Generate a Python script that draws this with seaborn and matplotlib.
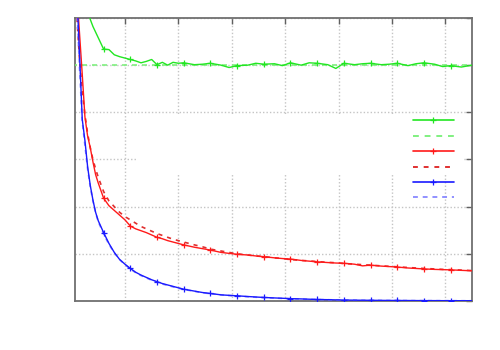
import numpy as np
import pandas as pd
import seaborn as sns
import matplotlib.pyplot as plt
from matplotlib.lines import Line2D
from matplotlib.patches import Rectangle

# shared sample positions
x = [0.10, 0.15, 0.20, 0.25, 0.30, 0.35, 0.40, 0.45, 0.50, 0.60,
     0.70, 0.80, 0.90, 1.00, 1.10, 1.20, 1.30, 1.40, 1.50, 1.60,
     1.70, 1.80, 1.90, 2.00, 2.10, 2.30, 2.45, 2.60, 2.80, 2.95,
     3.10, 3.30, 3.45, 3.60, 3.80, 3.95, 4.10, 4.30, 4.45, 4.60,
     4.80, 4.95, 5.10, 5.30, 5.45, 5.60, 5.80, 5.95, 6.10, 6.30,
     6.45, 6.60, 6.80, 6.95, 7.10, 7.30, 7.50]

green = [7.5, 7.2, 6.9, 6.6, 6.25, 5.97, 5.82, 5.70, 5.58, 5.34,
         5.33, 5.22, 5.18, 5.15, 5.12, 5.09, 5.05, 5.08, 5.12, 5.01,
         5.06, 5.00, 5.06, 5.04, 5.05, 5.01, 5.02, 5.04, 5.00, 4.95,
         4.99, 5.00, 5.04, 5.02, 5.03, 4.99, 5.05, 5.00, 5.05, 5.04,
         5.01, 4.93, 5.04, 5.01, 5.03, 5.04, 5.01, 5.02, 5.04, 4.99,
         5.03, 5.05, 5.02, 4.97, 4.99, 4.96, 5.00]
green_ref_x = [0.0, 7.5]
green_ref = [5.0, 5.0]

red = [6.5, 5.65, 4.8, 3.9, 3.5, 3.25, 2.95, 2.68, 2.50, 2.18,
       2.02, 1.92, 1.82, 1.72, 1.59, 1.53, 1.49, 1.45, 1.40, 1.35,
       1.32, 1.28, 1.25, 1.22, 1.19, 1.14, 1.11, 1.08, 1.03, 1.01,
       0.99, 0.975, 0.955, 0.94, 0.915, 0.90, 0.89, 0.86, 0.845, 0.83,
       0.815, 0.805, 0.80, 0.78, 0.745, 0.76, 0.74, 0.73, 0.72, 0.70,
       0.69, 0.68, 0.67, 0.665, 0.66, 0.65, 0.64]
red_ref = [6.0, 5.1, 4.45, 3.95, 3.55, 3.25, 3.0, 2.8, 2.62, 2.32,
           2.12, 2.0, 1.88, 1.79, 1.72, 1.65, 1.58, 1.53, 1.48, 1.43,
           1.39, 1.35, 1.31, 1.28, 1.25, 1.19, 1.15, 1.10, 1.06, 1.03,
           1.00, 0.975, 0.955, 0.94, 0.915, 0.90, 0.88, 0.86, 0.85, 0.835,
           0.82, 0.81, 0.795, 0.78, 0.77, 0.76, 0.745, 0.735, 0.725, 0.71,
           0.70, 0.69, 0.68, 0.67, 0.665, 0.655, 0.645]

blue = [6.5, 5.2, 3.85, 3.4, 2.85, 2.45, 2.14, 1.88, 1.70, 1.45,
        1.22, 1.03, 0.88, 0.78, 0.69, 0.61, 0.55, 0.50, 0.45, 0.41,
        0.37, 0.34, 0.31, 0.28, 0.25, 0.21, 0.18, 0.16, 0.13, 0.12,
        0.11, 0.095, 0.085, 0.075, 0.065, 0.058, 0.05, 0.044, 0.038, 0.032,
        0.028, 0.024, 0.02, 0.018, 0.016, 0.015, 0.013, 0.012, 0.011, 0.010,
        0.009, 0.008, 0.008, 0.007, 0.007, 0.006, 0.006]
blue_ref = [6.2, 4.9, 3.8, 3.3, 2.8, 2.42, 2.12, 1.87, 1.68, 1.42,
            1.20, 1.02, 0.88, 0.77, 0.68, 0.60, 0.54, 0.49, 0.44, 0.40,
            0.36, 0.33, 0.30, 0.27, 0.245, 0.205, 0.175, 0.155, 0.13, 0.115,
            0.105, 0.09, 0.08, 0.072, 0.062, 0.055, 0.048, 0.042, 0.036, 0.031,
            0.027, 0.023, 0.02, 0.017, 0.015, 0.014, 0.012, 0.011, 0.010, 0.009,
            0.008, 0.008, 0.007, 0.007, 0.006, 0.006, 0.005]

xa = np.array(x)
marks = list((np.round((xa - 0.1) * 10) % 5 == 0) & (xa > 0.5))

sns.set_style("white")
fig = plt.figure(figsize=(5, 3.5), dpi=100)
ax = fig.add_axes([0.15, 0.14, 0.794, 0.8086])

c_green, c_green2 = '#22e622', '#80f080'
c_red, c_red2 = '#ff1a1a', '#e03030'
c_blue, c_blue2 = '#1a1aff', '#9090ff'
ms = 4.5

sns.lineplot(x=green_ref_x, y=green_ref, ax=ax, color=c_green2, lw=1.2,
             linestyle=(0, (3, 3)), zorder=3)
sns.lineplot(x=x, y=green, ax=ax, color=c_green, lw=1.0, marker='+', ms=ms,
             mec=c_green, mew=0.9, markevery=marks, zorder=4)
sns.lineplot(x=x, y=red_ref, ax=ax, color=c_red2, lw=1.2,
             linestyle=(0, (2.5, 3)), zorder=3)
sns.lineplot(x=x, y=red, ax=ax, color=c_red, lw=1.0, marker='+', ms=ms,
             mec=c_red, mew=0.9, markevery=marks, zorder=4)
sns.lineplot(x=x, y=blue_ref, ax=ax, color=c_blue2, lw=1.2,
             linestyle=(0, (2.5, 2.5)), zorder=3)
sns.lineplot(x=x, y=blue, ax=ax, color=c_blue, lw=1.0, marker='+', ms=ms,
             mec=c_blue, mew=0.9, markevery=marks, zorder=4)

ax.set_xlim(0.064, 7.5)
ax.set_ylim(0, 6)
ax.set_xticks([1, 2, 3, 4, 5, 6, 7])
ax.set_yticks([0, 1, 2, 3, 4, 5, 6])
ax.set_xlabel('')
ax.set_ylabel('')
ax.grid(True, color='#c4c4c4', linestyle=(0, (1, 1.5)), lw=1.0)
ax.set_axisbelow(True)
ax.tick_params(direction='in', top=True, right=True, length=4, width=1,
               color='#606060', labelbottom=False, labelleft=False)
for s in ax.spines.values():
    s.set_color('#707070')
    s.set_linewidth(1.3)

# blank patch over the grid (empty label area)
ax.add_patch(Rectangle((0.159, 0.45), 0.818, 0.21, transform=ax.transAxes,
                       facecolor='white', edgecolor='none', zorder=1.5))

handles = [
    Line2D([], [], color=c_green, lw=1.2, marker='+', ms=ms, mew=0.9, markevery=[1]),
    Line2D([], [], color=c_green2, lw=1.4, linestyle=(0, (3, 3))),
    Line2D([], [], color=c_red, lw=1.2, marker='+', ms=ms, mew=0.9, markevery=[1]),
    Line2D([], [], color=c_red2, lw=1.4, linestyle=(0, (2.5, 3))),
    Line2D([], [], color=c_blue, lw=1.2, marker='+', ms=ms, mew=0.9, markevery=[1]),
    Line2D([], [], color=c_blue2, lw=1.4, linestyle=(0, (2.5, 2.5))),
]
ax.legend(handles, [''] * 6, loc='upper left', bbox_to_anchor=(0.851, 0.66),
          frameon=False, fontsize=10, handlelength=2.95, handletextpad=0,
          labelspacing=0.1, borderpad=0, borderaxespad=0)

fig.savefig('out.png', dpi=100)
